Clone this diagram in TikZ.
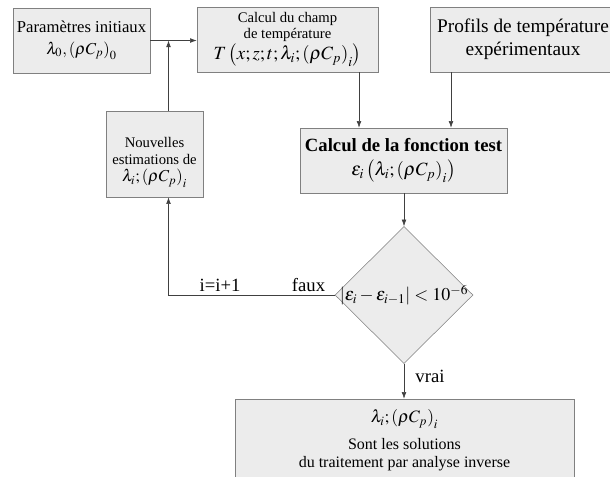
\documentclass[tikz,border=0pt]{standalone}
\usepackage{mathptmx}
\usepackage{fontspec}
\setmainfont{Liberation Serif}
\usetikzlibrary{arrows.meta,shapes.geometric,calc}

\begin{document}
\begin{tikzpicture}[x=0.75pt,y=-0.75pt,
  boite/.style={draw=gray,fill=gray!15,rectangle,align=center,inner sep=1pt},
  fleche/.style={draw=black!75,-{Latex[length=5pt,width=3.5pt]}},
  etiq/.style={font=\fontsize{14}{16}\selectfont,inner sep=0pt}]
\useasboundingbox[fill=white] (0,0) rectangle (610,476);
% boites du haut
\node[boite,minimum width=102.75pt,minimum height=48.75pt,font=\fontsize{12.5}{16}\selectfont] (init) at (81.5,40.5) {Paramètres initiaux\\$\lambda_0,\left(\rho C_p\right)_0$};
\node[boite,minimum width=135.75pt,minimum height=48.75pt,font=\fontsize{11}{11.5}\selectfont] (champ) at (287.5,39.5) {Calcul du champ\\de température\\[1pt]\fontsize{14}{15}\selectfont$T\left(x;z;t;\lambda_i;\left(\rho C_p\right)_i\right)$};
\node[boite,minimum width=139.5pt,minimum height=48.75pt,font=\fontsize{14.5}{17}\selectfont] (profils) at (523,39.5) {Profils de température\\expérimentaux};
\node[boite,minimum width=72.75pt,minimum height=64.5pt,font=\fontsize{11}{13}\selectfont] (nouv) at (154.5,154) {\rule{0pt}{20pt}Nouvelles\\estimations de\\\fontsize{12.5}{14}\selectfont$\lambda_i;\left(\rho C_p\right)_i$};
\node[boite,minimum width=155.25pt,minimum height=48.75pt,font=\fontsize{14}{18}\selectfont] (fonct) at (403.5,160.5) {\bfseries Calcul de la fonction test\\$\epsilon_i\left(\lambda_i;\left(\rho C_p\right)_i\right)$};
% test
\node[diamond,draw=gray,fill=gray!15,minimum width=103.5pt,minimum height=102.75pt,inner sep=0pt,font=\fontsize{13.5}{16}\selectfont] (test) at (404,295) {\makebox[0pt]{$\left|\epsilon_i-\epsilon_{i-1}\right|<10^{-6}$}};
\node[boite,minimum width=254.25pt,minimum height=62.25pt,font=\fontsize{12}{13.5}\selectfont] (sol) at (404.5,440.5) {\fontsize{13}{14}\selectfont$\lambda_i;\left(\rho C_p\right)_i$\\[7pt]Sont les solutions\\du traitement par analyse inverse};
% etiquettes
\node[etiq] (faux) at (308.5,285) {faux};
\node[etiq] (incr) at (220,285) {i=i+1};
\node[etiq] (vrai) at (430,376) {vrai};
% points de passage
\coordinate (bx) at (168.5,0);
\coordinate (cx) at (359,0);
\coordinate (dx) at (451,0);
% fleches
\draw[fleche] (init.east) -- (champ.west |- init.east);
\draw[fleche] (nouv.north -| bx) -- (bx |- init.east);
\draw[fleche] (champ.south -| cx) -- (fonct.north -| cx);
\draw[fleche] (profils.south -| dx) -- (fonct.north -| dx);
\draw[fleche] (fonct.south -| test.north) -- (test.north);
\draw[fleche] (test.west) -| (nouv.south -| bx);
\draw[fleche] (test.south) -- (sol.north -| test.south);
\end{tikzpicture}
\end{document}
